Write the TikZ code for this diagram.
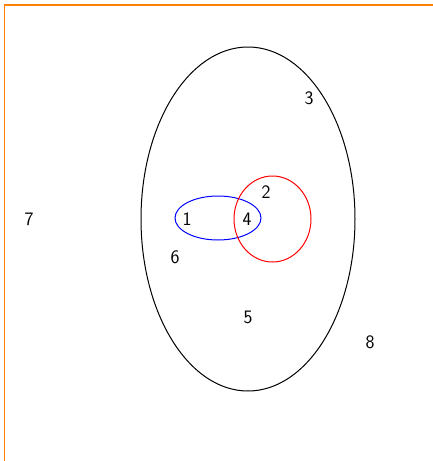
\documentclass[tikz,border=0pt]{standalone}
\begin{document}
\begin{tikzpicture}[x=1pt,y=-1pt,
  lbl/.style={font=\sffamily\fontsize{19}{21}\selectfont,inner sep=0pt},
  ring/.style={line width=1pt}]
\useasboundingbox (0,0) rectangle (432,461);
\draw[orange,line width=1.5pt] (4.5,470) -- (4.5,5) -- (440,5);
\draw[ring,black] (248,219) ellipse [x radius=107, y radius=172];
\draw[ring,blue] (218,218) ellipse [x radius=43, y radius=22];
\draw[ring,red] (272.5,219) ellipse [x radius=38.5, y radius=43];
\node[lbl] (n1) at (187,219) {1};
\node[lbl] (n2) at (266,192) {2};
\node[lbl] (n3) at (309,98) {3};
\node[lbl] (n4) at (247,219) {4};
\node[lbl] (n5) at (248,317) {5};
\node[lbl] (n6) at (175,257) {6};
\node[lbl] (n7) at (29,219) {7};
\node[lbl] (n8) at (370,342) {8};
\end{tikzpicture}
\end{document}
